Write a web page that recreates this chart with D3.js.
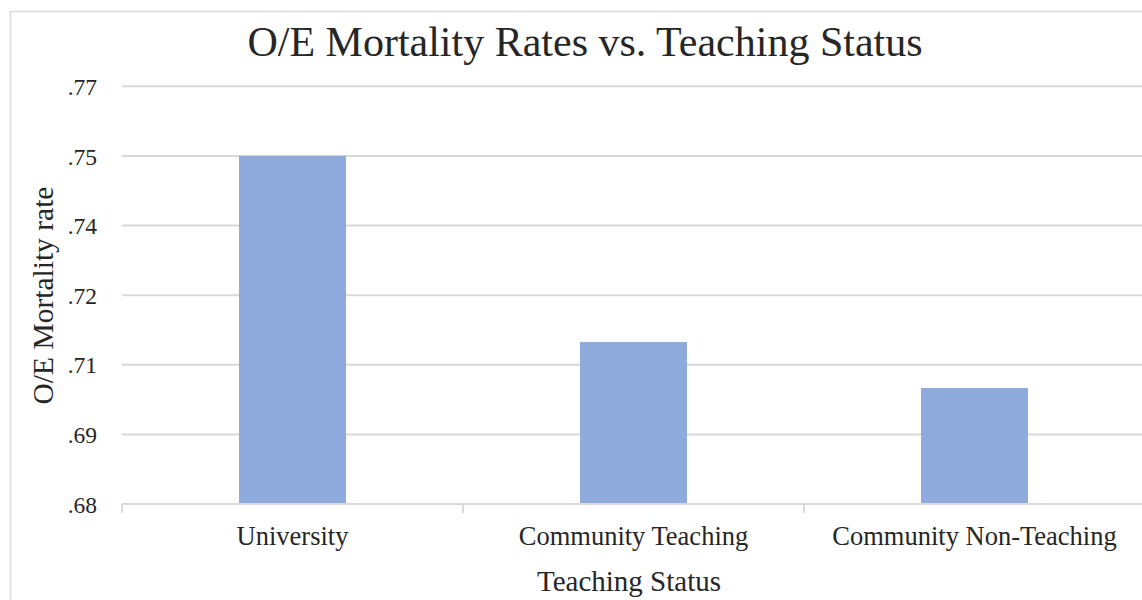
<!DOCTYPE html>
<html><head><meta charset="utf-8">
<script src="https://cdn.jsdelivr.net/npm/d3@7"></script>
<style>body{margin:0;background:#fff}svg{display:block}</style>
</head><body><svg id="c" width="1142" height="600"></svg>
<script>
const categories = ["University", "Community Teaching", "Community Non-Teaching"];
const values = [0.755, 0.7149, 0.705];
const tickValues = [0.68, 0.695, 0.71, 0.725, 0.74, 0.755, 0.77];
const tickLabels = [".68", ".69", ".71", ".72", ".74", ".75", ".77"];

const svg = d3.select("#c");
const font = "'Liberation Serif', 'Times New Roman', serif";
const L = 122, R = 1145, T = 86.3, B = 504;

svg.append("rect").attr("x", 10.5).attr("y", 11.5).attr("width", 1150).attr("height", 600)
  .attr("fill", "#fff").attr("stroke", "#d9d9d9").attr("stroke-width", 1.5);

const xb = d3.scaleBand().domain(categories).range([L, R]);
const y = d3.scaleLinear().domain([0.68, 0.77]).range([B, T]);

// gridlines
svg.append("g").selectAll("line").data(tickValues.slice(1)).join("line")
  .attr("x1", L).attr("x2", R).attr("y1", d => y(d)).attr("y2", d => y(d))
  .attr("stroke", "#d9d9d9").attr("stroke-width", 2);

// bars
svg.append("g").selectAll("rect").data(categories).join("rect")
  .attr("x", d => xb(d) + xb.bandwidth()/2 - 53.5).attr("width", 107)
  .attr("y", (d, i) => y(values[i])).attr("height", (d, i) => B - y(values[i]))
  .attr("fill", "#8faadc");

// x axis line and ticks
svg.append("line").attr("x1", L).attr("x2", R).attr("y1", B).attr("y2", B)
  .attr("stroke", "#d9d9d9").attr("stroke-width", 2);
const bounds = categories.map(c => xb(c)).concat([R]);
svg.append("g").selectAll("line").data(bounds).join("line")
  .attr("x1", d => d).attr("x2", d => d).attr("y1", B).attr("y2", B + 9)
  .attr("stroke", "#d9d9d9").attr("stroke-width", 2);

// y tick labels
svg.append("g").selectAll("text").data(tickValues).join("text")
  .attr("x", 97).attr("y", d => y(d) + 8.7).attr("text-anchor", "end")
  .attr("font-family", font).attr("font-size", 23.5).attr("fill", "#262626")
  .text((d, i) => tickLabels[i]);

// category labels
svg.append("g").selectAll("text").data(categories).join("text")
  .attr("x", d => xb(d) + xb.bandwidth()/2).attr("y", 545).attr("text-anchor", "middle")
  .attr("font-family", font).attr("font-size", 26.5).attr("fill", "#262626")
  .text(d => d);

// title
svg.append("text").attr("x", 585).attr("y", 56).attr("text-anchor", "middle")
  .attr("font-family", font).attr("font-size", 42).attr("fill", "#262626")
  .text("O/E Mortality Rates vs. Teaching Status");

// axis titles
svg.append("text").attr("x", 629).attr("y", 591).attr("text-anchor", "middle")
  .attr("font-family", font).attr("font-size", 29).attr("fill", "#262626")
  .text("Teaching Status");
svg.append("text").attr("transform", "translate(53,295.5) rotate(-90)").attr("text-anchor", "middle")
  .attr("font-family", font).attr("font-size", 29.5).attr("fill", "#262626")
  .text("O/E Mortality rate");
</script></body></html>
